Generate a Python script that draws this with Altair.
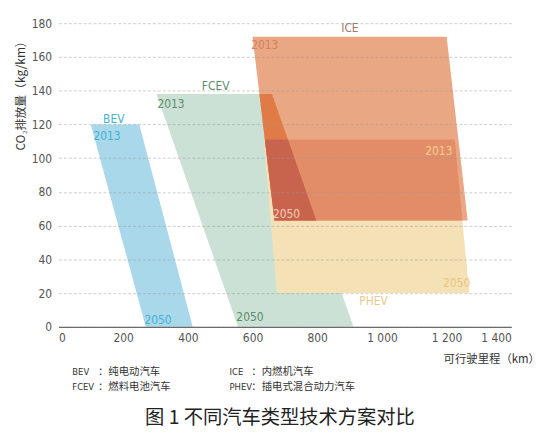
import altair as alt
import pandas as pd

# ---------------- data ----------------
shape_names = ["BEV", "FCEV", "ICE", "PHEV"]
y_2013 = [120, 138, 172, 111]          # upper edge (2013)
y_2050 = [0, 0, 63, 20]                # lower edge (2050)
x2013_left = [100, 303, 600, 635]
x2013_right = [250, 660, 1200, 1225]
x2050_left = [270, 555, 668, 675]
x2050_right = [415, 912, 1265, 1270]

x_ticks = [0, 200, 400, 600, 800, 1000, 1200, 1400]
y_ticks = [0, 20, 40, 60, 80, 100, 120, 140, 160, 180]

# overlapping regions drawn in this order
region_keys = ["BEV", "FCEV", "PHEV", "ICE", "ICE+PHEV", "ICE+FCEV", "ICE+FCEV+PHEV"]
region_members = [["BEV"], ["FCEV"], ["PHEV"], ["ICE"], ["ICE", "PHEV"], ["ICE", "FCEV"],
                  ["ICE", "FCEV", "PHEV"]]
region_colors = ["#a9d8ea", "#cbe1d5", "#f4e1b6", "#e9a784", "#e28d68", "#e07b48", "#c8644e"]

label_text = ["BEV", "2013", "2050", "FCEV", "2013", "2050", "ICE", "2013", "2050",
              "2013", "2050", "PHEV"]
label_x = [171, 150, 308, 486, 348, 592, 901, 638, 705, 1176, 1231, 974]
label_y = [123, 113, 4, 143, 132, 6, 177, 167, 67, 104, 26, 15]
label_color = ["#45b1d5", "#45b1d5", "#45b1d5", "#5c8c6c", "#5c8c6c", "#5c8c6c",
               "#9c7b69", "#d6825c", "#f6cdb6", "#f5cf8e", "#e9c57e", "#e8c98c"]

legend_abbr = ["BEV", "FCEV", "ICE", "PHEV"]
legend_desc = ["：纯电动汽车", "：燃料电池汽车", "：内燃机汽车", "：插电式混合动力汽车"]
caption = "图 1 不同汽车类型技术方案对比"


# ---------------- geometry helpers ----------------
def edge(i, side, y):
    top, bot = y_2013[i], y_2050[i]
    if side == "left":
        xt, xb = x2013_left[i], x2050_left[i]
    else:
        xt, xb = x2013_right[i], x2050_right[i]
    t = (y - bot) / (top - bot)
    return xb + t * (xt - xb)


rows = []
for key, members in zip(region_keys, region_members):
    idx = [shape_names.index(m) for m in members]
    lo = max(y_2050[i] for i in idx)
    hi = min(y_2013[i] for i in idx)
    for y in (lo, hi):
        rows.append({
            "region": key,
            "y": y,
            "xl": max(edge(i, "left", y) for i in idx),
            "xr": min(edge(i, "right", y) for i in idx),
        })
shapes_df = pd.DataFrame(rows)

labels_df = pd.DataFrame({"t": label_text, "xl": label_x, "y": label_y, "c": label_color})

# ---------------- scales / axes ----------------
NARROW = "Liberation Sans Narrow, DejaVu Sans Condensed, sans-serif"
CJK = "Noto Sans CJK SC"

xscale = alt.Scale(domain=[0, 1400], nice=False, zero=False)
yscale = alt.Scale(domain=[0, 180], nice=False)

x_axis = alt.Axis(
    values=x_ticks,
    labelExpr="datum.value >= 1000 ? replace(format(datum.value, ','), ',', ' ') : format(datum.value, 'd')",
    grid=False, ticks=False, domain=True, domainColor="#6b6b6b", domainWidth=1.3,
    labelFont=NARROW, labelFontSize=12, labelColor="#555555", labelPadding=6,
    title="可行驶里程（km）", titleX=389, titleY=33, titleAlign="left",
    titleBaseline="middle", titleFont=CJK, titleFontSize=11.5, titleFontWeight="normal",
    titleColor="#333333", zindex=2,
)
y_axis = alt.Axis(
    values=y_ticks, grid=True, gridDash=[3, 2], gridColor="#9a9a9a", gridOpacity=0.6,
    gridWidth=0.8, domain=False, ticks=False, labelFont=NARROW, labelFontSize=12,
    labelColor="#555555", labelPadding=7,
    title="CO₂排放量（kg/km）", titleX=-38, titleY=70, titleAngle=270,
    titleAlign="center", titleBaseline="middle", titleFont=CJK, titleFontSize=12,
    titleFontWeight="normal", titleColor="#333333", zindex=1,
)

X = alt.X("xl:Q", scale=xscale, axis=x_axis, title="可行驶里程（km）")
Y = alt.Y("y:Q", scale=yscale, axis=y_axis, title="CO₂排放量（kg/km）")

layers = []
for key, col in zip(region_keys, region_colors):
    layers.append(
        alt.Chart(shapes_df)
        .transform_filter(alt.datum.region == key)
        .mark_area(orient="horizontal", color=col, opacity=1)
        .encode(x=X, x2="xr:Q", y=Y)
    )

layers.append(
    alt.Chart(labels_df)
    .mark_text(font=NARROW, fontSize=12, align="center", baseline="middle")
    .encode(x=X, y=Y, text="t:N", color=alt.Color("c:N", scale=None))
)

# legend lines under the chart (pixel layout relative to plot origin)
for i, (ab, de) in enumerate(zip(legend_abbr, legend_desc)):
    col_i, row_i = i // 2, i % 2
    bx = 14 + col_i * 159
    by = 352.5 + row_i * 15.5
    layers.append(
        alt.Chart(pd.DataFrame({"t": [ab]}))
        .mark_text(font="DejaVu Sans Condensed, sans-serif", fontSize=9.5, align="left",
                   baseline="middle", color="#333333")
        .encode(text="t:N", x=alt.value(bx), y=alt.value(by))
    )
    layers.append(
        alt.Chart(pd.DataFrame({"t": [de]}))
        .mark_text(font=CJK, fontSize=10.5, align="left", baseline="middle", color="#333333")
        .encode(text="t:N", x=alt.value(bx + 26 - (col_i * 4)), y=alt.value(by))
    )

layers.append(
    alt.Chart(pd.DataFrame({"t": [caption]}))
    .mark_text(font=CJK, fontSize=19.5, align="center", baseline="middle", color="#222222")
    .encode(text="t:N", x=alt.value(224), y=alt.value(399))
)

chart = (
    alt.layer(*layers)
    .properties(
        width=458,
        height=307,
        padding={"left": 51, "top": 13, "right": 31, "bottom": 103},
        autosize=alt.AutoSizeParams(type="none"),
        background="white",
    )
    .configure_view(stroke="transparent")
)

chart.save("out.html", embed_options={"renderer": "svg", "actions": False})
